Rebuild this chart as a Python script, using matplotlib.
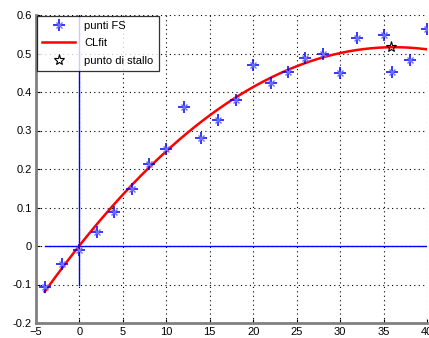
import matplotlib
matplotlib.use("Agg")
import matplotlib.pyplot as plt
import numpy as np

# punti misurati (alfa, CL)
alfa = [-4, -2, 0, 2, 4, 6, 8, 10, 12, 14, 16, 18, 20, 22, 24, 26, 28, 30, 32, 35, 36, 38, 40]
cl = [-0.106, -0.047, -0.01, 0.036, 0.088, 0.149, 0.212, 0.252, 0.361, 0.28, 0.326, 0.38,
      0.47, 0.423, 0.453, 0.488, 0.5, 0.449, 0.54, 0.547, 0.453, 0.482, 0.563]
# punto di stallo
alfa_stallo = [35.9]
cl_stallo = [0.516]

xticks = [-5, 0, 5, 10, 15, 20, 25, 30, 35, 40]
yticks = [-0.2, -0.1, 0, 0.1, 0.2, 0.3, 0.4, 0.5, 0.6]
ylabels = ['-0.2', '-0.1', '0', '0.1', '0.2', '0.3', '0.4', '0.5', '0.6']

plt.rcParams['font.family'] = ['Liberation Sans', 'DejaVu Sans']

fig = plt.figure(figsize=(4.29, 3.38), dpi=100)
ax = fig.add_axes([36 / 429, 15 / 338, 391 / 429, 308 / 338])

# fit quadratico
coef = np.polyfit(alfa, cl, 2)
xf = np.linspace(min(alfa), max(alfa), 200)
yf = np.polyval(coef, xf)

ax.plot([min(alfa), max(alfa)], [0, 0], color='blue', lw=1, zorder=2)
ax.plot([0, 0], [-0.1, 0.6], color='blue', lw=1, zorder=2)

# asterisco stile MATLAB: croce + diagonali piu' leggere
p1, = ax.plot(alfa, cl, linestyle='none', marker='+', color='blue', markersize=8,
              markeredgewidth=1.1, zorder=4)
p2, = ax.plot(alfa, cl, linestyle='none', marker='x', color='#6f6fff', markersize=4.5,
              markeredgewidth=1.0, zorder=4)
l1, = ax.plot(xf, yf, color='red', lw=1.8, zorder=3)
s1, = ax.plot(alfa_stallo, cl_stallo, linestyle='none', marker='*', markersize=8,
              markerfacecolor='none', markeredgecolor='black', markeredgewidth=0.8, zorder=5)

ax.set_xlim(-5, 40)
ax.set_ylim(-0.2, 0.6)
ax.set_xticks(xticks)
ax.set_yticks(yticks)
ax.set_yticklabels(ylabels)
ax.tick_params(direction='in', length=3, labelsize=8, width=0.8, color='black', pad=3)
ax.grid(True, color='black', linestyle=(0, (1, 3)), lw=0.8)

for s in ['top', 'right']:
    ax.spines[s].set_visible(False)
for s in ['left', 'bottom']:
    ax.spines[s].set_color('#808080')
    ax.spines[s].set_linewidth(2)

leg = ax.legend([(p1, p2), l1, s1], ['punti FS', 'CLfit', 'punto di stallo'],
                loc='upper left', fontsize=8, frameon=True, fancybox=False,
                edgecolor='black', borderaxespad=0.1, handlelength=3.0,
                handletextpad=0.8, labelspacing=0.65, borderpad=0.45)
leg.get_frame().set_linewidth(0.9)

fig.savefig('out.png', dpi=100)
